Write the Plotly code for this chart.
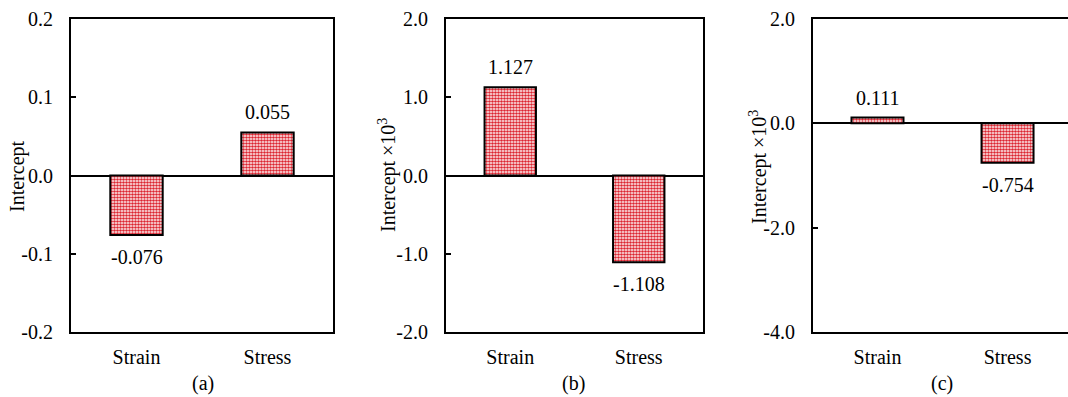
import plotly.graph_objects as go

categories = ["Strain", "Stress"]
values_a = [-0.076, 0.055]
values_b = [1.127, -1.108]
values_c = [0.111, -0.754]
ticks_a = [-0.2, -0.1, 0.0, 0.1, 0.2]
ticks_b = [-2.0, -1.0, 0.0, 1.0, 2.0]
ticks_c = [-4.0, -2.0, 0.0, 2.0]
panel_labels = ["(a)", "(b)", "(c)"]
y_titles = ["Intercept", "Intercept ×10<sup>3</sup>", "Intercept ×10<sup>3</sup>"]

W, H = 1068, 397
FONT = "Liberation Serif"
FS = 20

def px(x):
    return x / W

def py(y):
    return 1 - y / H

panels = [
    dict(vals=values_a, ticks=ticks_a, rng=[-0.2, 0.2], xd=[71, 333], xr=[-0.5, 1.5], title_x=17, title_y=176, lab_x=203),
    dict(vals=values_b, ticks=ticks_b, rng=[-2.0, 2.0], xd=[446, 703], xr=[-0.5, 1.5], title_x=387, title_y=175, lab_x=573),
    dict(vals=values_c, ticks=ticks_c, rng=[-4.0, 2.0], xd=[813, 1068], xr=[-0.496, 1.465], title_x=758, title_y=167, lab_x=942),
]

fig = go.Figure()
annotations = []
for i, p in enumerate(panels):
    sfx = "" if i == 0 else str(i + 1)
    fig.add_trace(go.Bar(
        x=categories, y=p["vals"], width=0.4,
        xaxis="x" + sfx, yaxis="y" + sfx,
        marker=dict(color="white",
                    line=dict(color="black", width=2),
                    pattern=dict(shape=".", fgcolor="#dc2430", bgcolor="white",
                                 size=3, solidity=0.6, fillmode="replace")),
        showlegend=False,
    ))
    last = i == 2
    fig.update_layout(**{
        "xaxis" + sfx: dict(
            domain=[px(p["xd"][0]), px(p["xd"][1])],
            anchor="y" + sfx, range=p["xr"], type="category",
            showline=True, linecolor="black", linewidth=2, mirror=True,
            ticks="", showgrid=False, zeroline=False, automargin=False,
            tickfont=dict(family=FONT, size=FS, color="black"),
            ticklabelstandoff=6,
        ),
        "yaxis" + sfx: dict(
            domain=[py(332), py(19)], anchor="x" + sfx, range=p["rng"],
            showline=True, linecolor="black", linewidth=2,
            mirror=(False if last else True), automargin=False,
            ticks="inside", ticklen=5, tickwidth=2, tickcolor="black",
            tickvals=p["ticks"], ticktext=["%.1f" % t for t in p["ticks"]],
            tickfont=dict(family=FONT, size=FS, color="black"),
            ticklabelstandoff=12,
            showgrid=False, zeroline=True, zerolinecolor="black", zerolinewidth=2,
        ),
    })
    for c, v in zip(categories, p["vals"]):
        annotations.append(dict(
            x=c, y=v, xref="x" + sfx, yref="y" + sfx,
            text="%.3f" % v, showarrow=False,
            yshift=(20 if v >= 0 else -22),
            font=dict(family=FONT, size=FS, color="black"),
        ))
    annotations.append(dict(
        x=px(p["title_x"]), y=py(p["title_y"]), xref="paper", yref="paper",
        text=y_titles[i], textangle=-90, showarrow=False,
        xanchor="center", yanchor="middle",
        font=dict(family=FONT, size=FS, color="black"),
    ))
    annotations.append(dict(
        x=px(p["lab_x"]), y=py(383), xref="paper", yref="paper",
        text=panel_labels[i], showarrow=False,
        xanchor="center", yanchor="middle",
        font=dict(family=FONT, size=FS, color="black"),
    ))

fig.update_layout(
    width=W, height=H,
    margin=dict(l=0, r=0, t=0, b=0),
    paper_bgcolor="white", plot_bgcolor="white",
    annotations=annotations,
    bargap=0.6,
)

fig.write_html("out.html")
